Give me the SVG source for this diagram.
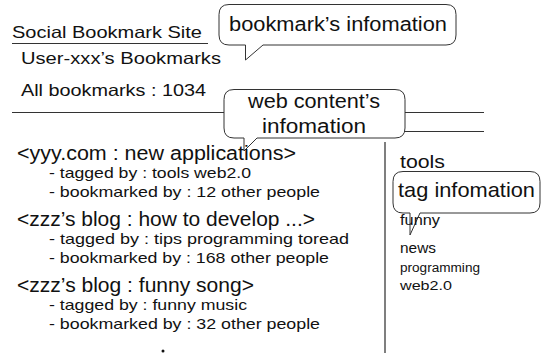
<svg xmlns="http://www.w3.org/2000/svg" width="550" height="356" viewBox="0 0 550 356">
<style>
text{font-family:"Liberation Sans",Arial,sans-serif;fill:#111}
.ln{stroke:#333;stroke-width:1;fill:none}
.bal{fill:#fff;stroke:#333;stroke-width:1}
.h{font-size:16.5px}
.t{font-size:20px}
.s{font-size:15px}
</style>
<rect width="550" height="356" fill="#fff"/>
<g id="rules">
<line class="ln" x1="12" y1="43.5" x2="208" y2="43.5"/>
<line class="ln" x1="12" y1="112.5" x2="484" y2="112.5"/>
<line class="ln" x1="400" y1="131.5" x2="484" y2="131.5"/>
<line x1="385" y1="142" x2="385" y2="353" stroke="#555" stroke-width="1.5"/>
</g>
<g id="header">
<text class="h" x="12" y="38" textLength="190" lengthAdjust="spacingAndGlyphs">Social Bookmark Site</text>
<text class="h" x="21" y="64" textLength="200" lengthAdjust="spacingAndGlyphs">User-xxx’s Bookmarks</text>
<text class="h" x="21" y="96" textLength="185" lengthAdjust="spacingAndGlyphs">All bookmarks : 1034</text>
</g>
<g id="bookmark-info">
<path class="bal" d="M229,4.5 H446 Q456,4.5 456,14.5 V35 Q456,45 446,45 H263 L245.5,60 V45 H229 Q219,45 219,35 V14.5 Q219,4.5 229,4.5 Z"/>
<text x="229" y="31" font-size="19.5" textLength="218" lengthAdjust="spacingAndGlyphs">bookmark’s infomation</text>
</g>
<g id="web-content-info">
<path class="bal" d="M234,89.5 H395 Q405,89.5 405,99.5 V128 Q405,138 395,138 H257 L244,151 V138 H234 Q224,138 224,128 V99.5 Q224,89.5 234,89.5 Z"/>
<text x="248" y="108" font-size="19.5" textLength="132" lengthAdjust="spacingAndGlyphs">web content’s</text>
<text x="262" y="133" font-size="19.5" textLength="104" lengthAdjust="spacingAndGlyphs">infomation</text>
</g>
<g id="tag-info">
<path class="bal" d="M403,171.5 H530 Q540,171.5 540,181.5 V203 Q540,213 530,213 H420 L410,235 V213 H403 Q393,213 393,203 V181.5 Q393,171.5 403,171.5 Z"/>
<text x="398" y="197" font-size="21" textLength="137" lengthAdjust="spacingAndGlyphs">tag infomation</text>
</g>
<g id="bookmark-list">
<text class="t" x="17" y="159.5" textLength="279" lengthAdjust="spacingAndGlyphs">&lt;yyy.com : new applications&gt;</text>
<text class="s" x="49" y="178" textLength="202" lengthAdjust="spacingAndGlyphs">- tagged by : tools web2.0</text>
<text class="s" x="49" y="197" textLength="271" lengthAdjust="spacingAndGlyphs">- bookmarked by : 12 other people</text>
<text class="t" x="17" y="225.5" textLength="298" lengthAdjust="spacingAndGlyphs">&lt;zzz’s blog : how to develop ...&gt;</text>
<text class="s" x="49" y="244" textLength="300" lengthAdjust="spacingAndGlyphs">- tagged by : tips programming toread</text>
<text class="s" x="49" y="263" textLength="280" lengthAdjust="spacingAndGlyphs">- bookmarked by : 168 other people</text>
<text class="t" x="17" y="291.5" textLength="237" lengthAdjust="spacingAndGlyphs">&lt;zzz’s blog : funny song&gt;</text>
<text class="s" x="49" y="310" textLength="198" lengthAdjust="spacingAndGlyphs">- tagged by : funny music</text>
<text class="s" x="49" y="329" textLength="271" lengthAdjust="spacingAndGlyphs">- bookmarked by : 32 other people</text>
<circle cx="163" cy="351" r="1.5" fill="#111"/>
</g>
<g id="tag-list">
<text x="400" y="168" font-size="18" textLength="45" lengthAdjust="spacingAndGlyphs">tools</text>
<text x="400" y="225" font-size="15" textLength="40" lengthAdjust="spacingAndGlyphs">funny</text>
<text x="400" y="253" font-size="15" textLength="36" lengthAdjust="spacingAndGlyphs">news</text>
<text x="400" y="272" font-size="12" textLength="80" lengthAdjust="spacingAndGlyphs">programming</text>
<text x="400" y="290" font-size="12" textLength="52" lengthAdjust="spacingAndGlyphs">web2.0</text>
</g>
</svg>
